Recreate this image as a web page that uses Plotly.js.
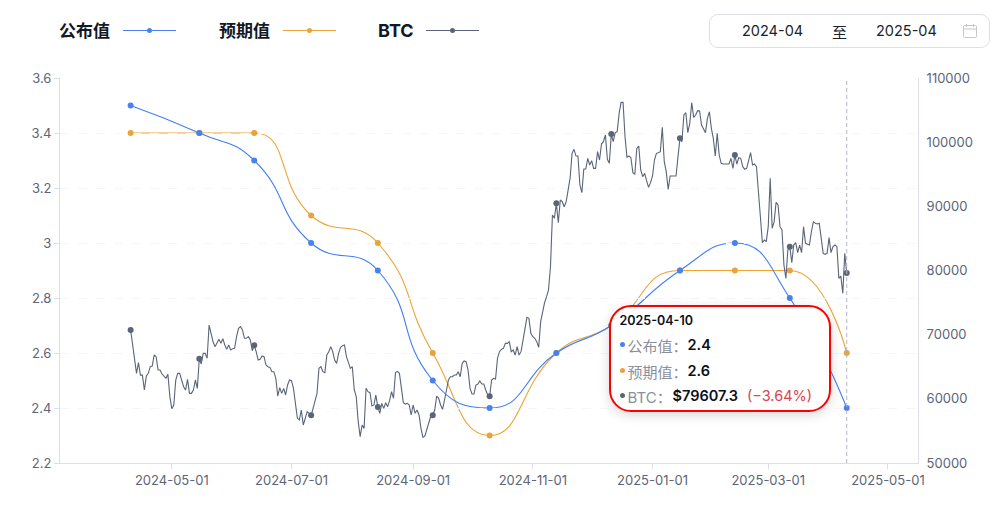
<!DOCTYPE html>
<html lang="zh"><head><meta charset="utf-8">
<script src="https://cdn.plot.ly/plotly-3.0.1.min.js"></script>
<style>
html,body{margin:0;padding:0;background:#fff;width:1000px;height:515px;overflow:hidden;font-family:Inter,"Noto Sans CJK SC",sans-serif}
#chart{position:absolute;left:0;top:0;width:1000px;height:515px}
.abs{position:absolute;white-space:nowrap}
#picker{position:absolute;left:709px;top:14px;width:279px;height:32px;border:1px solid #dcdfe6;border-radius:9px;background:#fff;box-sizing:content-box}
#tip{position:absolute;left:609px;top:305px;width:218px;height:103px;border:2.5px solid #ff0000;border-radius:22px;background:#fff;box-shadow:0 3px 12px rgba(0,0,0,.16)}
.dot{position:absolute;width:5px;height:5px;border-radius:50%}
</style></head><body>
<div id="chart"></div>
<div id="picker">
  <span class="abs" style="left:32px;top:7px;font-size:14.5px;color:#1a1f2b">2024-04</span>
  <span class="abs" style="left:122px;top:6px;font-size:15px;color:#1a1f2b">至</span>
  <span class="abs" style="left:166px;top:7px;font-size:14.5px;color:#1a1f2b">2025-04</span>
  <svg class="abs" style="left:253px;top:9px" width="14" height="14" viewBox="0 0 14 14" fill="none" stroke="#c4c7cf" stroke-width="1"><rect x="0.5" y="1.5" width="13" height="12" rx="1"/><path d="M0.5 5H13.5M3.5 0V3M10.5 0V3"/></svg>
</div>
<div id="tip">
  <span class="abs" style="left:8.5px;top:6px;font-size:12.5px;font-weight:600;color:#0b1020">2025-04-10</span>
  <i class="dot" style="left:8.5px;top:35px;background:#4a80f0"></i>
  <span class="abs" style="left:16.5px;top:28px;font-size:15px;color:#8a8f9c">公布值：</span>
  <span class="abs" style="left:76.5px;top:29px;font-size:14.5px;font-weight:600;color:#0b1020">2.4</span>
  <i class="dot" style="left:8.5px;top:61px;background:#e8a33d"></i>
  <span class="abs" style="left:16.5px;top:54px;font-size:15px;color:#8a8f9c">预期值：</span>
  <span class="abs" style="left:76.5px;top:55px;font-size:14.5px;font-weight:600;color:#0b1020">2.6</span>
  <i class="dot" style="left:8.5px;top:86px;background:#5b6478"></i>
  <span class="abs" style="left:16.5px;top:79px;font-size:15px;color:#8a8f9c">BTC：</span>
  <span class="abs" style="left:61.5px;top:80px;font-size:14.5px;font-weight:600;color:#0b1020">$79607.3</span>
  <span class="abs" style="left:136px;top:80px;font-size:14.5px;color:#d9434e">(−3.64%)</span>
</div>
<script>
const releaseDates=["2024-04-10","2024-05-15","2024-06-12","2024-07-11","2024-08-14","2024-09-11","2024-10-10","2024-11-13","2024-12-11","2025-01-15","2025-02-12","2025-03-12","2025-04-10"];
const publishedValues=[3.5,3.4,3.3,3.0,2.9,2.5,2.4,2.6,2.7,2.9,3.0,2.8,2.4];
const expectedValues=[3.4,3.4,3.4,3.1,3.0,2.6,2.3,2.6,2.7,2.9,2.9,2.9,2.6];
const btcStart="2024-04-10";
const btcValues=[70727,68650,66050,63970,65635,63700,63700,61376,63550,63970,65010,65115,66830,66570,64490,64490,63870,63450,63190,63820,60340,58470,59040,62935,63970,63970,62935,61895,61376,63040,60856,60856,61376,62935,61635,
66260,65430,67090,67090,66310,71500,69950,68900,68130,68650,69270,68650,69375,68390,67710,68390,67610,67820,67870,69690,70990,71250,70730,69430,69430,69690,69170,67500,68340,67350,66050,66155,66675,66570,65270,
65010,64900,64230,64230,63190,60440,61740,60856,61635,60600,62155,62935,62830,61635,59300,56960,56700,58260,55920,56960,58000,57740,57430,58520,59820,60850,64750,65010,64230,64080,66830,67350,68130,67350,66050,65530,
67090,68025,68285,68390,66570,65790,64750,65010,61376,60340,56440,54100,55920,55400,61635,61116,60960,58880,59040,60600,58725,57740,59300,58520,59400,58780,59715,61116,60080,64080,64285,63970,61895,59400,59190,59300,59040,57480,59040,57740,58260,57480,55400,54000,54210,55140,56440,57320,57430,58260,60440,60080,59040,58360,59820,61635,62935,63450,63450,63710,63710,64230,63450,65530,65895,65790,64490,61635,60750,60750,62155,62310,62780,62310,62310,61376,60600,60390,62935,63190,63090,66310,67350,67710,67870,68650,68650,68910,67350,67610,66830,68130,66830,67350,69065,70620,72700,72545,70210,69690,69430,68910,68025,72025,73844,
75000,75920,76960,80595,88650,88130,90465,87450,90985,90725,89945,90725,92540,94360,98258,98880,97840,97840,93320,92130,95815,95815,97480,96440,97115,95920,95920,98520,97220,99710,100075,101115,97320,96700,101270,100075,101480,101635,104490,106200,106200,100855,97635,97840,97580,95245,94985,99035,99400,95660,94620,95140,94000,92960,93685,94725,97220,98258,98360,98520,102310,96960,95400,92650,94725,94725,94620,94725,97740,100595,
100075,104232,104595,101480,102933,106154,103870,104232,104907,104855,102673,102154,101480,103712,104750,102154,100595,97840,101375,97998,96700,96595,96595,96543,96595,97478,95920,97998,96595,97582,97478,96180,95764,95920,96960,98360,96440,96595,96180,91504,88387,84335,84750,84490,86830,94360,86570,87610,90620,90205,86830,86310,80855,78775,83190,83710,81220,83970,84335,82775,83970,82775,86830,84230,84125,83970,86050,87610,87350,87245,87350,84750,82670,82515,82670,85115,82775,83710,83970,83710,78775,79140,76440,82670,79607];
const xTickVals=["2024-05-01","2024-07-01","2024-09-01","2024-11-01","2025-01-01","2025-03-01","2025-05-01"];
const leftTicks=[2.2,2.4,2.6,2.8,3,3.2,3.4,3.6];
const rightTicks=[50000,60000,70000,80000,90000,100000,110000];
const legendNames=["公布值","预期值","BTC"];
const BLUE="#4a80f0",ORANGE="#e8a33d",GRAY="#5b6478";

const dayMs=864e5, t0=Date.parse(btcStart+"T00:00:00Z");
const btcDates=btcValues.map((_,i)=>new Date(t0+i*dayMs).toISOString().slice(0,10));
const btcAtRelease=releaseDates.map(d=>btcValues[btcDates.indexOf(d)]);

const X_RANGE=["2024-03-05","2025-05-16 08:00"];
const Y_RANGE=[2.2,3.6];
const PLOT={l:60,r:82,t:78,b:52};

/* Smooth curve through the monthly values, passed to Plotly as a shape path in data coordinates.
   Control points stay within the y extent of each neighbouring pair, so plateaus stay flat. */
function smoothPath(dates,vals,smooth){
  const w=1000-PLOT.l-PLOT.r,h=515-PLOT.t-PLOT.b;
  const sx=w/(Date.parse(X_RANGE[1].replace(" ","T")+"Z")-Date.parse(X_RANGE[0]+"T00:00:00Z"));
  const sy=h/(Y_RANGE[1]-Y_RANGE[0]);
  const xs=dates.map(d=>Date.parse(d+"T00:00:00Z")*sx), ys=vals.map(v=>v*sy);
  const clamp=(v,a,b)=>Math.min(Math.max(v,Math.min(a,b)),Math.max(a,b));
  const outX=x=>new Date(x/sx).toISOString().slice(0,19).replace("T","_"), outY=y=>(y/sy).toFixed(5);
  let path="M"+outX(xs[0])+","+outY(ys[0]);
  let cp0x=xs[0],cp0y=ys[0];
  for(let i=1;i<xs.length;i++){
    const x=xs[i],y=ys[i];
    let c1x=x,c1y=y,n0x=x,n0y=y;
    if(i<xs.length-1){
      const px=xs[i-1],py=ys[i-1],nx=xs[i+1],ny=ys[i+1];
      const lp=Math.hypot(x-px,y-py),ln=Math.hypot(nx-x,ny-y),r=ln/(ln+lp);
      let vx=nx-px,vy=ny-py;
      n0x=clamp(x+vx*smooth*r,x,nx);n0y=clamp(y+vy*smooth*r,y,ny);
      vx=n0x-x;vy=n0y-y;
      c1x=clamp(x-vx*lp/ln,x,px);c1y=clamp(y-vy*lp/ln,y,py);
      vx=x-c1x;vy=y-c1y;
      n0x=x+vx*ln/lp;n0y=y+vy*ln/lp;
    }
    path+="C"+outX(cp0x)+","+outY(cp0y)+" "+outX(c1x)+","+outY(c1y)+" "+outX(x)+","+outY(y);
    cp0x=n0x;cp0y=n0y;
  }
  return path;
}

const FONT='Inter,"Noto Sans CJK SC",sans-serif';
const tickFont={family:FONT,size:13,color:"#5c6577"};
const traces=[
 {name:"BTC",x:btcDates,y:btcValues,yaxis:"y2",mode:"lines",line:{color:GRAY,width:1.1},hoverinfo:"skip",showlegend:false},
 {name:"BTC",x:releaseDates,y:btcAtRelease,yaxis:"y2",mode:"markers",marker:{color:GRAY,size:6},hoverinfo:"skip",showlegend:false},
 {name:"预期值",x:releaseDates,y:expectedValues,mode:"markers",marker:{color:ORANGE,size:6},hoverinfo:"skip",showlegend:false},
 {name:"公布值",x:releaseDates,y:publishedValues,mode:"markers",marker:{color:BLUE,size:6},hoverinfo:"skip",showlegend:false}
];
const pw=1000-PLOT.l-PLOT.r,ph=515-PLOT.t-PLOT.b;
function pxX(p){return (p-PLOT.l)/pw}
function pyY(p){return (515-PLOT.b-p)/ph}
const legendCfg=[[59,123,BLUE,17],[219,283,ORANGE,17],[378,426,GRAY,18]];
const shapes=[
 {type:"path",layer:"below",xref:"x",yref:"y",path:smoothPath(releaseDates,expectedValues,0.5),line:{color:"#eca334",width:1.1}},
 {type:"path",layer:"below",xref:"x",yref:"y",path:smoothPath(releaseDates,publishedValues,0.5),line:{color:"#3f7ff5",width:1.1}},
 {type:"line",xref:"x",yref:"paper",x0:"2025-04-10",x1:"2025-04-10",y0:0,y1:1,line:{color:"#b4b8c4",width:1,dash:"4px,3px"}}
];
const annotations=[];
legendCfg.forEach((c,i)=>{
 shapes.push({type:"line",xref:"paper",yref:"paper",x0:pxX(c[1]),x1:pxX(c[1]+53),y0:pyY(30.5),y1:pyY(30.5),line:{color:c[2],width:1}});
 shapes.push({type:"circle",xref:"paper",yref:"paper",x0:pxX(c[1]+24),x1:pxX(c[1]+29),y0:pyY(28),y1:pyY(33),fillcolor:c[2],line:{width:0}});
 annotations.push({xref:"paper",yref:"paper",x:pxX(c[0]),y:pyY(30.5),xanchor:"left",yanchor:"middle",showarrow:false,xshift:-2,text:"<b>"+legendNames[i]+"</b>",font:{family:FONT,size:c[3],color:"#111827"}});
});
const layout={
 width:1000,height:515,margin:{l:PLOT.l,r:PLOT.r,t:PLOT.t,b:PLOT.b,pad:0},paper_bgcolor:"#fff",plot_bgcolor:"#fff",showlegend:false,hovermode:false,
 xaxis:{type:"date",range:X_RANGE,tickvals:xTickVals,ticktext:xTickVals,ticks:"outside",ticklen:5,tickcolor:"#dcdfe6",tickwidth:1,showgrid:false,showline:true,linecolor:"#dcdfe6",linewidth:1,zeroline:false,tickfont:tickFont,tickangle:0},
 yaxis:{range:Y_RANGE,tickvals:leftTicks,ticktext:leftTicks.map(String),ticks:"outside",ticklen:5,tickcolor:"#dcdfe6",showline:true,linecolor:"#dcdfe6",linewidth:1,showgrid:true,gridcolor:"#f5f6f8",griddash:"dash",gridwidth:1,zeroline:false,tickfont:tickFont},
 yaxis2:{range:[50000,110000],overlaying:"y",side:"right",tickvals:rightTicks,ticktext:rightTicks.map(String),ticks:"",showline:true,linecolor:"#dcdfe6",linewidth:1,showgrid:false,zeroline:false,tickfont:tickFont,ticklabelstandoff:5},
 shapes,annotations
};
Plotly.newPlot("chart",traces,layout,{displayModeBar:false,staticPlot:true});
</script></body></html>
